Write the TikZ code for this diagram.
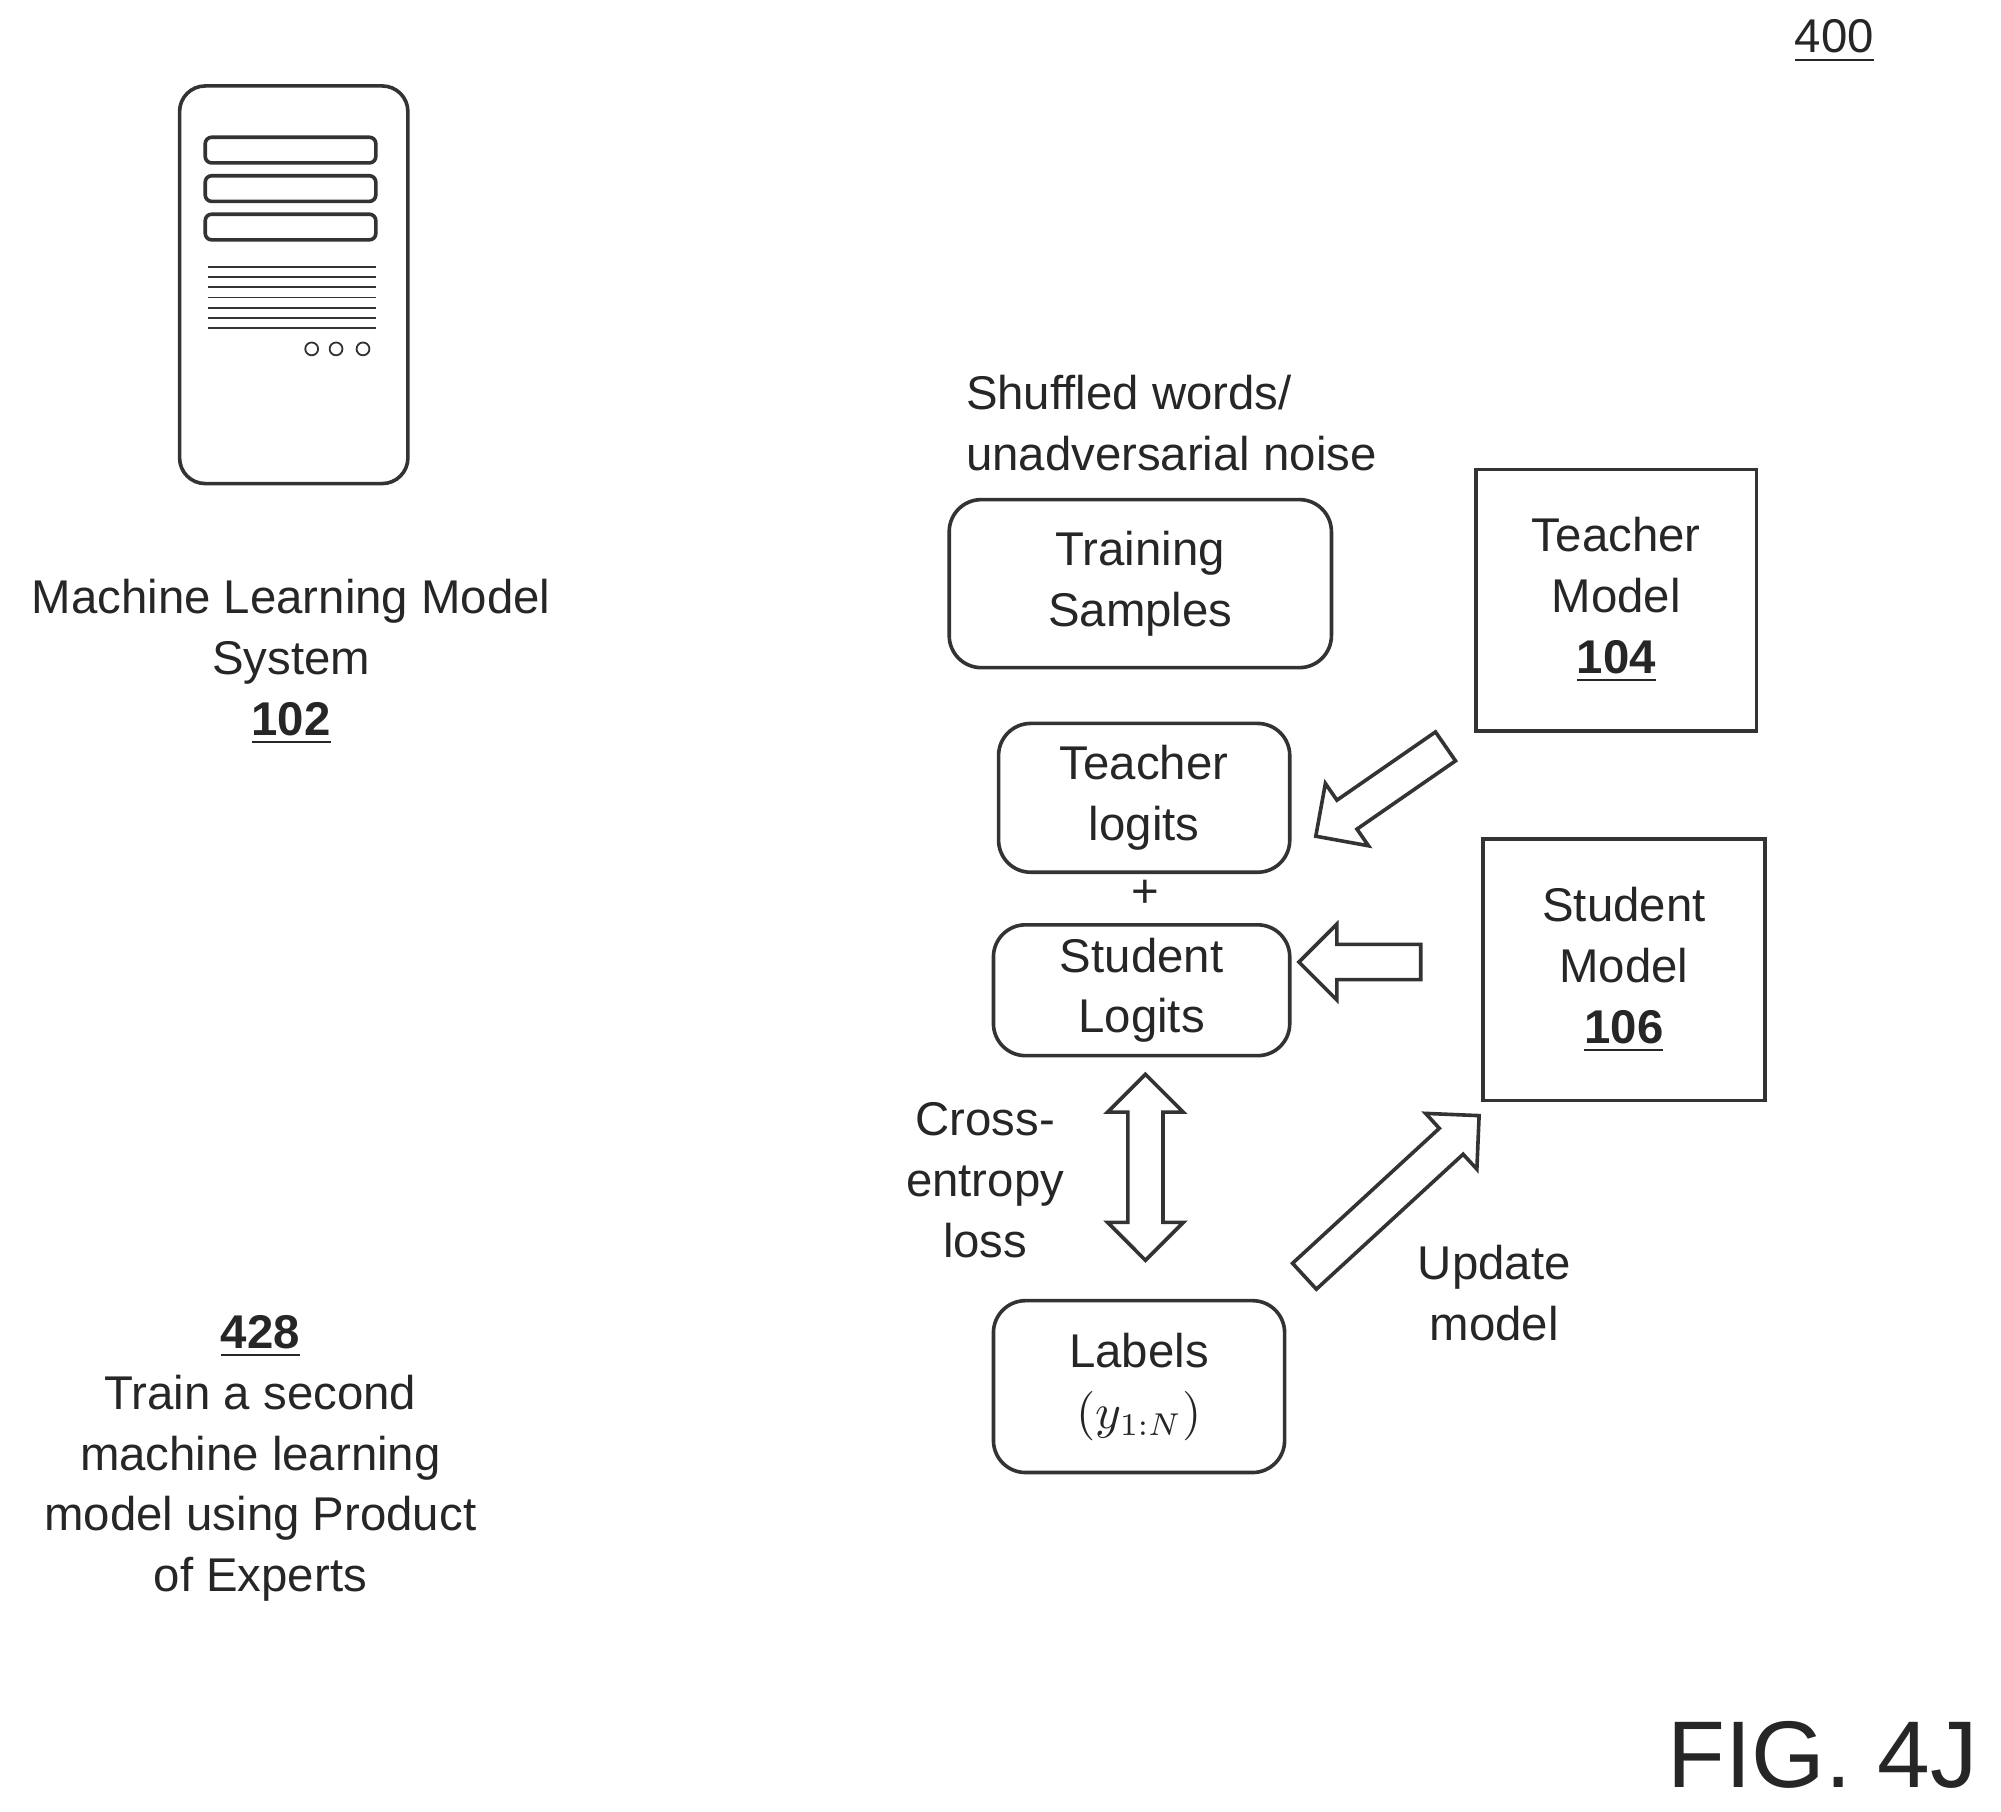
\documentclass[tikz,border=0pt]{standalone}
\usepackage{fontspec}
\setmainfont{Liberation Sans}
\usetikzlibrary{shapes.arrows,positioning,calc}

\begin{document}
\begin{tikzpicture}[
x=0.01cm, y=-0.01cm, thick, draw=black!80,
every node/.style = {font=\fontsize{10.5}{13.5}\selectfont, align=center, text=black!85},
step-box/.style = {draw=black!80, rounded corners=2.5mm, inner sep=0pt},
model-box/.style = {draw=black!80, inner sep=0pt},
hollow-arrow/.style = {single arrow, draw=black!80, inner xsep=0pt, inner ysep=3.5pt, single arrow head extend=4.5pt},
ref-num/.style = {font=\fontsize{10.5}{13.5}\selectfont\bfseries}
]
\useasboundingbox (0,0) rectangle (1560,1412);

% server
\draw[rounded corners=2mm] (140,67) rectangle (318,377);
\foreach \y in {107,137,167}
  \draw[rounded corners=0.5mm] (160,\y) rectangle (293,\y+20);
\foreach \y in {208,216,...,256}
  \draw[thin] (162,\y) -- (293,\y);
\foreach \x in {243,262,283}
  \draw[thin] (\x,272) circle (5);

% labels
\node (fignum) at (1430,32) {\underline{400}};
\node (mlsys) at (227,516) {Machine Learning Model\\System\\\textbf{\underline{102}}};
\node (step) at (203,1137) {\textbf{\underline{428}}\\Train a second\\machine learning\\model using Product\\of Experts};
\node[anchor=west, align=left] (noise) at (740,330) {Shuffled words/\\unadversarial noise};

% boxes
\node[step-box, minimum width=298*0.01cm, minimum height=131*0.01cm] (train) at (889,455) {Training\\Samples};
\node[step-box, minimum width=227*0.01cm, minimum height=116*0.01cm] (tlogit) at (892,622) {Teacher\\logits};
\node (plus) at (893,697) {+};
\node[step-box, minimum width=231*0.01cm, minimum height=102*0.01cm] (slogit) at (890,772) {Student\\Logits};
\node[step-box, minimum width=227*0.01cm, minimum height=134*0.01cm] (labels) at (888,1081) {Labels\\$(y_{1:N})$};
\node[model-box, minimum width=219*0.01cm, minimum height=204*0.01cm] (teacher) at (1260,468) {Teacher\\Model\\\textbf{\underline{104}}};
\node[model-box, minimum width=220*0.01cm, minimum height=204*0.01cm] (student) at (1266,756) {Student\\Model\\\textbf{\underline{106}}};
\node (xent) at (768,920) {Cross-\\entropy\\loss};
\node (update) at (1165,1008) {Update\\model};

% arrows
\node[hollow-arrow, minimum height=123*0.01cm, rotate=214.7] (a1) at (1082,613) {};
\node[hollow-arrow, minimum height=95*0.01cm, rotate=180] (a2) at (1067,750) {};
\node[hollow-arrow, minimum height=185*0.01cm, rotate=42.6] (a3) at (1080,937) {};
\node[double arrow, draw=black!80, inner xsep=0pt, inner ysep=3.5pt, double arrow head extend=4.5pt, minimum height=145*0.01cm, rotate=90] (a4) at (893,910) {};

\node[font=\fontsize{21}{21}\selectfont, anchor=east] (fig) at (1555,1368) {FIG. 4J};
\end{tikzpicture}
\end{document}
